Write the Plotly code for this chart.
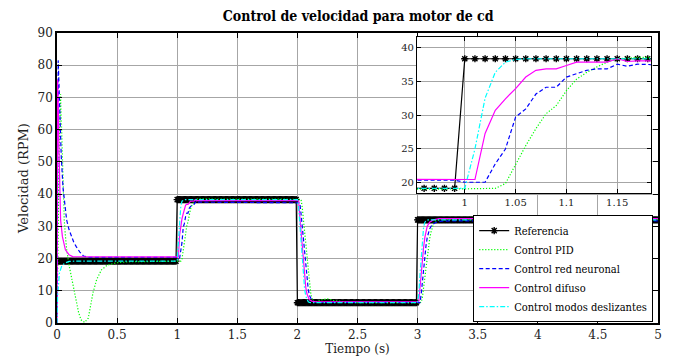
import numpy as np
import plotly.graph_objects as go

# ---------------- data ----------------
ref_step_times = [0.0, 1.0, 2.0, 3.0]
ref_levels = [19.2, 38.3, 6.3, 32.0]
ref_sample_dt = 0.01
ref_end = 5.0

pid_t = [0, 0.01, 0.02, 0.03, 0.04, 0.05, 0.06, 0.07, 0.08, 0.10, 0.12, 0.14, 0.16, 0.18, 0.20,
         0.23, 0.26, 0.28, 0.30, 0.33, 0.37, 0.42, 0.50, 0.60, 0.99, 1.00, 1.03, 1.04, 1.05, 1.06,
         1.07, 1.08, 1.09, 1.10, 1.11, 1.12, 1.13, 1.14, 1.15, 1.16, 1.17, 1.20, 2.00, 2.03, 2.04,
         2.05, 2.06, 2.07, 2.08, 2.09, 2.10, 2.11, 2.12, 2.13, 2.15, 2.20, 2.25, 2.30, 2.40, 2.50,
         3.00, 3.03, 3.04, 3.05, 3.06, 3.07, 3.08, 3.09, 3.10, 3.11, 3.12, 3.13, 3.14, 3.16, 3.20,
         3.30, 5.00]
pid_v = [0, 30, 58, 71, 58, 42, 32, 27, 23, 18, 14, 10.5, 6.5, 3.2, 1.0,
         0.2, 1.5, 5, 9.5, 13.5, 16.5, 18, 18.7, 19.0, 19.1, 19.1, 19.2, 19.9, 22.8, 25.5,
         28, 30.2, 31.4, 33.6, 35.3, 36.3, 37.1, 37.8, 38.3, 38.4, 38.5, 38.5, 38.5, 38.4, 36,
         32, 28, 24, 19.5, 15.5, 12, 9.5, 7.8, 6.8, 6.5, 7.2, 7.5, 7.0, 6.5, 6.3,
         6.3, 6.4, 8, 11, 14.5, 18, 21, 23.5, 26, 28, 29.5, 30.5, 31.3, 32.0, 32.2,
         32.1, 32.1]

rn_t = [0, 0.005, 0.01, 0.02, 0.025, 0.035, 0.05, 0.065, 0.08, 0.10, 0.12, 0.14, 0.16, 0.19, 0.22,
        0.26, 0.99, 1.00, 1.02, 1.03, 1.04, 1.05, 1.06, 1.07, 1.08, 1.09, 1.10, 1.11, 1.12, 1.13,
        1.14, 1.15, 1.16, 1.17, 1.18, 2.00, 2.02, 2.03, 2.04, 2.05, 2.06, 2.07, 2.08, 2.09, 2.10,
        2.11, 2.12, 2.14, 2.17, 3.00, 3.02, 3.03, 3.04, 3.05, 3.06, 3.07, 3.08, 3.09, 3.10, 3.12,
        3.15, 3.20, 3.30, 5.00]
rn_v = [0, 60, 81.5, 70, 63, 52, 42, 36, 32, 29, 26.8, 25, 23.7, 22, 20.8,
        20.4, 20.4, 20.1, 20.1, 22.8, 25, 29.7, 30.9, 33.1, 34.1, 34.1, 35.6, 36.1, 36.6, 36.8,
        36.8, 37.5, 37.2, 37.5, 37.5, 37.5, 37.3, 34, 30, 26, 21, 17, 13, 10.5, 8.6,
        7.5, 7.0, 6.6, 6.4, 6.4, 6.3, 9, 13, 17.5, 21, 24, 26.5, 28, 29.2, 30.5,
        31.2, 31.6, 31.7, 31.7]

fz_t = [0, 0.005, 0.01, 0.017, 0.03, 0.045, 0.07, 0.10, 0.13, 0.99, 1.01, 1.02, 1.03, 1.04, 1.05,
        1.06, 1.07, 1.08, 1.09, 1.10, 1.11, 1.14, 1.15, 1.16, 1.17, 2.00, 2.01, 2.02, 2.03, 2.04,
        2.05, 2.06, 2.07, 2.08, 2.09, 2.10, 2.12, 2.15, 3.00, 3.01, 3.02, 3.03, 3.04, 3.05, 3.06,
        3.07, 3.08, 3.10, 3.13, 3.18, 5.00]
fz_v = [0, 75.5, 68, 53, 32, 26.8, 22.7, 21.2, 20.6, 20.5, 20.5, 27.3, 30.7, 32.4, 33.9,
        35.6, 36.6, 36.8, 36.8, 37.3, 37.8, 37.8, 38.3, 37.9, 38.0, 38.0, 37.8, 33, 28, 23,
        18, 14, 11, 9, 7.8, 7.2, 6.8, 6.6, 6.6, 6.8, 11, 16, 20, 23.5, 26.5,
        28.5, 30, 31.3, 32, 32.4, 32.4]

md_t = [0, 0.005, 0.02, 0.04, 0.067, 0.10, 0.15, 1.00, 1.01, 1.02, 1.03, 1.04, 1.05, 1.06, 2.00,
        2.01, 2.02, 2.03, 2.04, 2.05, 2.06, 2.07, 2.08, 2.09, 2.10, 2.12, 3.00, 3.01, 3.02, 3.03,
        3.04, 3.05, 3.06, 3.07, 3.09, 5.00]
md_v = [0, 8.2, 15.5, 17.8, 18.6, 19.1, 19.2, 19.2, 25, 32.5, 36.3, 37.8, 38.2, 38.3, 38.3,
        36, 31, 25, 19, 14, 10.5, 8.3, 7.1, 6.6, 6.4, 6.3, 6.3, 9, 15, 21,
        26.5, 29.8, 31.2, 31.8, 32.0, 32.0]

series_names = ["Referencia", "Control PID", "Control red neuronal", "Control difuso",
                "Control modos deslizantes"]

x_ticks_main = [0, 0.5, 1, 1.5, 2, 2.5, 3, 3.5, 4, 4.5, 5]
x_ticklabels_main = ["0", "0.5", "1", "1.5", "2", "2.5", "3", "3.5", "4", "4.5", "5"]
y_ticks_main = [0, 10, 20, 30, 40, 50, 60, 70, 80, 90]
x_ticks_inset = [1.0, 1.05, 1.1, 1.15]
x_ticklabels_inset = ["1", "1.05", "1.1", "1.15"]
y_ticks_inset = [20, 25, 30, 35, 40]

n_samples = int(round(ref_end / ref_sample_dt)) + 1
ref_t = np.round(np.arange(n_samples) * ref_sample_dt, 2)
ref_idx = np.searchsorted(np.array(ref_step_times), ref_t, side="right") - 1
ref_v = np.array(ref_levels)[ref_idx]

F_SERIF = "DejaVu Serif"
F_COND = "DejaVu Serif Condensed"

fig = go.Figure()
styles = [
    dict(color="#000000", dash="solid"),
    dict(color="#00ff00", dash="1.2px,1.8px"),
    dict(color="#0000ff", dash="4px,2.5px"),
    dict(color="#ff00ff", dash="solid"),
    dict(color="#00ffff", dash="5px,2px,1.5px,2px"),
]
datasets = [(ref_t, ref_v), (pid_t, pid_v), (rn_t, rn_v), (fz_t, fz_v), (md_t, md_v)]

for axes_i, (xa, ya) in enumerate([("x", "y"), ("x2", "y2")]):
    for i, ((tx, vy), st, name) in enumerate(zip(datasets, styles, series_names)):
        kw = dict(x=tx, y=vy, name=name, xaxis=xa, yaxis=ya,
                  showlegend=(axes_i == 0), legendrank=i + 1,
                  line=dict(color=st["color"], dash=st["dash"], width=1.2))
        if i == 0:
            kw["mode"] = "lines+markers"
            kw["marker"] = dict(symbol="asterisk-open", size=6, color="#000000",
                                line=dict(color="#000000", width=1.4))
        else:
            kw["mode"] = "lines"
        fig.add_trace(go.Scatter(**kw))

grid_col = "#a6a6a6"
axis_common = dict(showline=True, linecolor="#000000", mirror="ticks", ticks="inside",
                   tickcolor="#000000", ticklen=5, showgrid=True, gridcolor=grid_col,
                   gridwidth=1, zeroline=False, automargin=False)

fig.update_layout(
    width=681, height=358,
    margin=dict(l=57, r=23, t=33, b=35),
    paper_bgcolor="#ffffff", plot_bgcolor="#ffffff",
    title=dict(text="<b>Control de velocidad para motor de cd</b>", x=0.526, xanchor="center",
               y=0.955, yanchor="middle", font=dict(family=F_COND, size=14, color="#000")),
    xaxis=dict(range=[0, 5], tickvals=x_ticks_main, ticktext=x_ticklabels_main,
               title=dict(text="Tiempo (s)", font=dict(family=F_SERIF, size=12, color="#222"), standoff=2),
               linewidth=1.5, tickfont=dict(family=F_SERIF, size=12, color="#222"), **axis_common),
    yaxis=dict(range=[0, 90], tickvals=y_ticks_main,
               title=dict(text="Velocidad (RPM)", font=dict(family=F_SERIF, size=13, color="#222"), standoff=6),
               linewidth=1.5, tickfont=dict(family=F_SERIF, size=12, color="#222"), **axis_common),
    xaxis2=dict(domain=[0.599, 0.988], anchor="y2", range=[0.953, 1.183],
                tickvals=x_ticks_inset, ticktext=x_ticklabels_inset, linewidth=1,
                tickfont=dict(family=F_SERIF, size=10, color="#222"), **{**axis_common, "ticklen": 4}),
    yaxis2=dict(domain=[0.448, 0.986], anchor="x2", range=[18.5, 41.5],
                tickvals=y_ticks_inset, linewidth=1,
                tickfont=dict(family=F_SERIF, size=10, color="#222"), **{**axis_common, "ticklen": 4}),
    legend=dict(x=0.992, y=0.372, xanchor="right", yanchor="top", bgcolor="#ffffff",
                bordercolor="#000000", borderwidth=1, itemwidth=30, tracegroupgap=0,
                font=dict(family=F_COND, size=11, color="#000")),
    showlegend=True,
)

fig.write_html("out.html", config={"displayModeBar": False},
               post_script="document.body.style.margin='0';document.body.style.overflow='hidden';")
